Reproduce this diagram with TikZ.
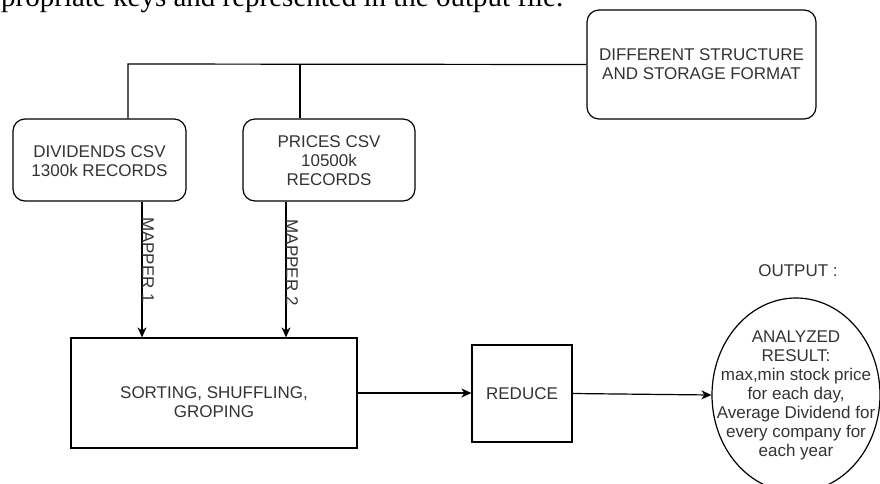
\documentclass[tikz,border=0pt]{standalone}
\usepackage{fontspec}
\setmainfont{Liberation Sans}
\newfontfamily\serifbody{Liberation Serif}
\usetikzlibrary{arrows.meta,shapes.geometric}
\definecolor{inkgray}{RGB}{51,51,51}

\tikzset{
  lbl/.style={text=inkgray, align=center, inner sep=0pt,
              font=\fontsize{17}{19}\selectfont},
  rbox/.style={draw=black, line width=1.2pt, rounded corners=12pt, inner sep=0pt},
  sbox/.style={draw=black, line width=1.2pt, inner sep=0pt},
  conn/.style={draw=black, line width=1.2pt},
  arr/.style={conn, -{Stealth[length=10pt,width=9pt,inset=3pt]}},
}

\begin{document}
\begin{tikzpicture}[x=1pt,y=-1pt]
\useasboundingbox (0,0) rectangle (880,483);
\clip (0,0) rectangle (880,483);

% running text above the figure
\node[anchor=base west, inner sep=0pt, font=\serifbody\fontsize{29}{33}\selectfont]
  (caption) at (1,6) {propriate keys and represented in the output file.};

% source boxes
\node[rbox, minimum width=229pt, minimum height=109pt] (fmt) at (701.5,64.5) {};
\node[lbl] at (fmt.center) {DIFFERENT STRUCTURE\\AND STORAGE FORMAT};

\node[rbox, minimum width=173pt, minimum height=82pt] (div) at (99.5,160) {};
\node[lbl] at ([yshift=-1pt]div.center) {DIVIDENDS CSV\\1300k RECORDS};

\node[rbox, minimum width=172pt, minimum height=82pt] (pri) at (329,160) {};
\node[lbl] at ([yshift=-1pt]pri.center) {PRICES CSV\\10500k\\RECORDS};

% processing stages
\node[sbox, minimum width=286pt, minimum height=110pt] (sort) at (214,393) {};
\node[lbl] at ([yshift=-9pt]sort.center) {SORTING, SHUFFLING,\\GROPING};

\node[sbox, minimum width=100pt, minimum height=97pt] (red) at (522,393.5) {};
\node[lbl] at (red.center) {REDUCE};

% result
\node[lbl] (outhead) at (798,271) {OUTPUT :};
\node[ellipse, draw=black, line width=1.2pt, minimum width=168pt,
      minimum height=194pt, inner sep=0pt] (res) at (796,395) {};
\node[lbl] at (res.center) {ANALYZED\\RESULT:\\max,min stock price\\for each day,\\Average Dividend for\\every company for\\each year};

% bracket joining the two inputs to the format note
\coordinate (joinL) at (128,64);
\coordinate (joinR) at (300,64);
\draw[conn] (fmt.west) -- (joinL) -- (joinL |- div.north);
\draw[conn] (joinR) -- (joinR |- pri.north);

% mapper arrows
\draw[arr] ([xshift=42.5pt]div.south) -- ([xshift=42.5pt]div.south |- sort.north)
  node[pos=0.43, rotate=-90, anchor=base, lbl] {MAPPER 1};
\draw[arr] ([xshift=-43pt]pri.south) -- ([xshift=-43pt]pri.south |- sort.north)
  node[pos=0.45, rotate=-90, anchor=base, lbl] {MAPPER 2};

% flow to the result
\draw[arr] (sort.east) -- (sort.east -| red.west);
\draw[arr] (red.east) -- (res.west);
\end{tikzpicture}
\end{document}
